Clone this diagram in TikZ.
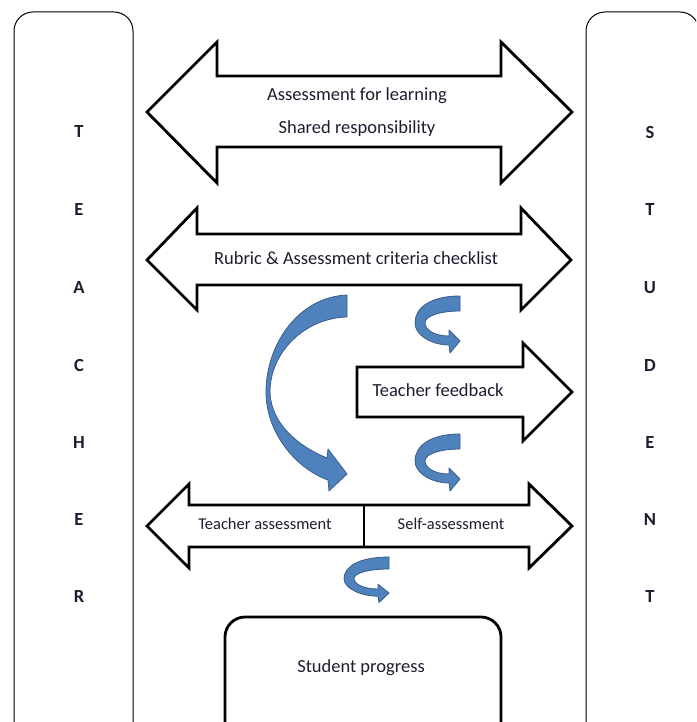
\documentclass[tikz,border=0pt]{standalone}
\usepackage{fontspec}
\setmainfont{Carlito}
\usepackage{tikz}
\usetikzlibrary{
    positioning,
    arrows.meta
}
\definecolor{TurnBlue}{RGB}{79,129,189}
\definecolor{TurnEdge}{RGB}{56,93,138}
\definecolor{InkNavy}{RGB}{28,30,48}

\begin{document}
\begin{tikzpicture}[
    x=1pt, y=-1pt,
    side/.style={draw, line width=1pt, rounded corners=19pt},
    block/.style={draw, line width=2.8pt, fill=white, line join=miter},
    progressbox/.style={draw, line width=2.8pt, rounded corners=20pt},
    letter/.style={font=\fontsize{18.5}{20}\selectfont\bfseries, text=InkNavy},
    boxtext/.style={font=\fontsize{18.5}{20}\selectfont, text=InkNavy},
    smalltext/.style={font=\fontsize{16.5}{18}\selectfont, text=InkNavy},
    turn face/.style={fill=TurnBlue, draw=TurnEdge, line width=0.8pt, line join=round},
    curlyarrow/.pic={
        \filldraw[turn face] (45,0) .. controls (15,0) and (0,12) .. (0,27)
            .. controls (0,40) and (18,49) .. (34,49) -- (35,57) -- (45,45) -- (34,34) -- (34,40)
            .. controls (20,40) and (10,34) .. (10,27) .. controls (10,19) and (28,15) .. (45,15) -- cycle;
    }
]
\clip (0,0) rectangle (696,722);

% teacher and student columns
\draw[side] (14,740) -- (14,12) -- (133,12) -- (133,740);
\draw[side] (586,740) -- (586,12) -- (699,12) -- (699,740);

\node[letter] (t1) at (79,132) {T};
\node[letter] (t2) at (79,210) {E};
\node[letter] (t3) at (79,288) {A};
\node[letter] (t4) at (79,365) {C};
\node[letter] (t5) at (79,442) {H};
\node[letter] (t6) at (79,519) {E};
\node[letter] (t7) at (79,596) {R};

\node[letter] (s1) at (650,132) {S};
\node[letter] (s2) at (650,210) {T};
\node[letter] (s3) at (650,288) {U};
\node[letter] (s4) at (650,365) {D};
\node[letter] (s5) at (650,442) {E};
\node[letter] (s6) at (650,519) {N};
\node[letter] (s7) at (650,596) {T};

% shared responsibility
\draw[block] (147,112) -- (217,42) -- (217,76) -- (501,76) -- (501,42) -- (572,112)
    -- (501,183) -- (501,147) -- (217,147) -- (217,183) -- cycle;
\node[boxtext] (afl) at (357,96) {Assessment for learning};
\node[boxtext] (shared) at (357,129) {Shared responsibility};

% rubric
\draw[block] (147,260) -- (197,208) -- (197,234) -- (521,234) -- (521,208) -- (571,260)
    -- (521,310) -- (521,285) -- (197,285) -- (197,310) -- cycle;
\node[boxtext] (rubric) at (356,258) {Rubric \& Assessment criteria checklist};

% feedback
\draw[block] (357,367) -- (523,367) -- (523,343) -- (572,392) -- (523,441) -- (523,417)
    -- (357,417) -- cycle;
\node[boxtext] (feedback) at (438,390) {Teacher feedback};

% teacher assessment / self-assessment
\draw[block] (147,526) -- (189,484) -- (189,505) -- (529,505) -- (529,484) -- (572,526)
    -- (529,568) -- (529,547) -- (189,547) -- (189,568) -- cycle;
\draw[line width=2pt] (364,505) -- (364,547);
\node[smalltext] (tassess) at (265,524) {Teacher assessment};
\node[smalltext] (sassess) at (451,524) {Self-assessment};

% student progress
\draw[progressbox] (225,740) -- (225,617) -- (501,617) -- (501,740);
\node[boxtext] (progress) at (361,668) {Student progress};

% curved arrows
\filldraw[turn face] (347,295) .. controls (298,297) and (266,345) .. (266,392)
    .. controls (266,432) and (295,468) .. (328,480) -- (329,491) -- (347,474)
    -- (328,449) -- (327,458) .. controls (300,447) and (271,425) .. (270,392)
    .. controls (270,352) and (305,318) .. (347,317) -- cycle;
\pic at (415,296) {curlyarrow};
\pic at (415,434) {curlyarrow};
\pic[yscale=0.8] at (344,557) {curlyarrow};
\end{tikzpicture}
\end{document}
